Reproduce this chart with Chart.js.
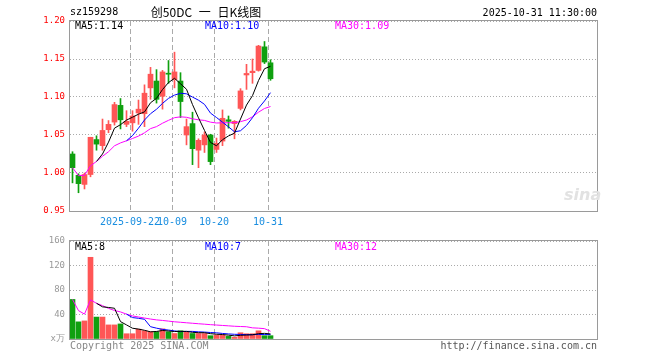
<!DOCTYPE html>
<html><head><meta charset="utf-8">
<script src="https://cdn.jsdelivr.net/npm/chart.js@4.4.1/dist/chart.umd.min.js"></script>
<style>
html,body{margin:0;padding:0;background:#fff;}
#wrap{position:relative;width:660px;height:360px;overflow:hidden;background:#fff;}
canvas{position:absolute;left:0;}
.t{position:absolute;font-family:"DejaVu Sans Mono",monospace;font-size:10px;line-height:12px;white-space:nowrap;}
</style></head><body>
<div id="wrap">
<canvas id="pc" width="660" height="230" style="top:0px"></canvas>
<canvas id="vc" width="660" height="130" style="top:230px"></canvas>
<div class="t" style="left:70px;top:6px;color:#000">sz159298</div>
<div class="t" style="left:106px;width:200px;top:5px;text-align:center;font-family:'Noto Sans CJK SC',sans-serif;font-size:12px;line-height:14px;word-spacing:4px;color:#000">创50DC 一 日K线图</div>
<div class="t" style="right:63px;top:7px;color:#000">2025-10-31 11:30:00</div>
<div class="t" style="left:75px;top:20px;color:#000">MA5:1.14</div>
<div class="t" style="left:205px;top:20px;color:#0000ff">MA10:1.10</div>
<div class="t" style="left:335px;top:20px;color:#ff00ff">MA30:1.09</div>
<div class="t" style="left:564px;top:186px;font-family:'DejaVu Sans',sans-serif;font-weight:bold;font-style:italic;font-size:16px;line-height:18px;color:#e2e2e2">sina</div>
<div class="t" style="left:75px;top:241px;color:#000">MA5:8</div>
<div class="t" style="left:205px;top:241px;color:#0000ff">MA10:7</div>
<div class="t" style="left:335px;top:241px;color:#ff00ff">MA30:12</div>
<div class="t" style="left:70px;top:340px;color:#888">Copyright 2025 SINA.COM</div>
<div class="t" style="right:63px;top:340px;color:#555">http://finance.sina.com.cn</div>
</div>
<script>
const dates = ["2025-09-08","2025-09-09","2025-09-10","2025-09-11","2025-09-12","2025-09-15","2025-09-16","2025-09-17","2025-09-18","2025-09-19","2025-09-22","2025-09-23","2025-09-24","2025-09-25","2025-09-26","2025-09-29","2025-09-30","2025-10-09","2025-10-10","2025-10-13","2025-10-14","2025-10-15","2025-10-16","2025-10-17","2025-10-20","2025-10-21","2025-10-22","2025-10-23","2025-10-24","2025-10-27","2025-10-28","2025-10-29","2025-10-30","2025-10-31"];
const tickDates = ["2025-09-22","2025-10-09","2025-10-20","2025-10-31"];
const tickLabels = ["2025-09-22","10-09","10-20","10-31"];
const priceTicks = [0.95,1.00,1.05,1.10,1.15,1.20];
const volTicks = [0,40,80,120,160];
const volTickLabels = ["x万","40","80","120","160"];

const openP  = [1.025,0.997,0.985,0.998,1.044,1.036,1.057,1.067,1.089,1.064,1.066,1.079,1.078,1.112,1.121,1.101,1.131,1.123,1.121,1.050,1.065,1.030,1.037,1.050,1.031,1.042,1.070,1.065,1.085,1.129,1.132,1.135,1.166,1.145];
const closeP = [1.007,0.986,0.998,1.047,1.038,1.056,1.064,1.090,1.070,1.068,1.075,1.084,1.105,1.130,1.097,1.133,1.130,1.133,1.094,1.061,1.032,1.043,1.050,1.015,1.039,1.072,1.068,1.068,1.108,1.131,1.134,1.167,1.146,1.124];
const highP  = [1.028,0.999,1.000,1.047,1.049,1.071,1.069,1.093,1.098,1.082,1.082,1.096,1.116,1.139,1.136,1.135,1.148,1.159,1.132,1.071,1.080,1.045,1.054,1.051,1.046,1.083,1.075,1.069,1.111,1.143,1.150,1.168,1.173,1.149];
const lowP   = [0.987,0.974,0.979,0.995,1.030,1.030,1.053,1.063,1.058,1.061,1.055,1.064,1.061,1.097,1.092,1.084,1.118,1.112,1.073,1.037,1.011,1.007,1.027,1.011,1.027,1.036,1.059,1.045,1.083,1.110,1.118,1.134,1.144,1.122];

const ma5  = [null,null,null,null,1.0152,1.025,1.0406,1.059,1.0636,1.0696,1.0734,1.0774,1.0804,1.0924,1.0982,1.1098,1.119,1.1246,1.1174,1.1102,1.09,1.0726,1.056,1.0402,1.0358,1.0438,1.0488,1.0524,1.071,1.0894,1.1018,1.1216,1.1372,1.1404];
const ma10 = [null,null,null,null,null,null,null,null,null,1.0424,1.0492,1.059,1.0697,1.078,1.0839,1.0916,1.0982,1.1025,1.1049,1.1042,1.0999,1.0958,1.0903,1.0788,1.073,1.0669,1.0607,1.0542,1.0556,1.0626,1.0728,1.0852,1.0948,1.1057];
const ma30 = [1.007,0.9965,0.997,1.0095,1.0152,1.022,1.028,1.0358,1.0396,1.0424,1.0454,1.0486,1.0529,1.0584,1.061,1.0655,1.0693,1.0728,1.0739,1.0733,1.0713,1.07,1.0692,1.0669,1.0658,1.066,1.0661,1.0662,1.0676,1.0697,1.074,1.08,1.0849,1.0875];

const volume = [64.6,28,29.5,133.4,35.8,35.8,23,23,24.6,8.6,8.6,16,13.4,11.8,11.8,16.6,11.8,9,13.4,11.3,9,9,9,5.4,6.5,6.5,4.3,2.7,10.2,8.6,8.6,13.4,5.4,5.4];
const vma5  = [null,null,null,null,58.3,52.5,51.5,50.2,28.4,23.0,17.6,16.2,14.2,11.7,12.3,13.9,13.1,12.2,12.5,12.4,10.9,10.3,10.3,8.7,7.8,7.3,6.3,5.1,6.0,6.5,6.9,8.7,9.2,8.3];
const vma10 = [null,null,null,null,null,null,null,null,null,40.6,35.0,33.8,32.2,20.1,17.7,15.7,14.6,13.2,12.1,12.4,12.4,11.7,11.3,10.6,10.1,9.1,8.3,7.7,7.4,7.1,7.1,7.5,7.2,7.2];
const vma30 = [64.6,46.3,40.7,63.9,58.3,54.5,50.0,46.6,44.2,40.6,37.7,35.9,34.2,32.6,31.2,30.3,29.2,28.1,27.3,26.5,25.7,24.9,24.2,23.4,22.8,22.1,21.5,20.8,20.4,20.0,18.2,17.7,16.9,12.6];

const RED = "#ff5656", GREEN = "#0fa00f";
const idx = dates.map((d, i) => i);
const colors = idx.map(i => closeP[i] >= openP[i] ? RED : GREEN);
const slot = 6, plotW = 527, firstOffset = 2.5;
const xMin = -firstOffset / slot, xMax = xMin + plotW / slot;
const gridShift = -firstOffset / slot;
const mono = "DejaVu Sans Mono";

const framePlugin = {
  id: 'frame',
  afterDraw(chart) {
    const a = chart.chartArea, c = chart.ctx;
    c.save();
    c.strokeStyle = '#9a9a9a';
    c.lineWidth = 1;
    c.setLineDash([]);
    c.strokeRect(a.left - 0.5, a.top - 0.5, a.right - a.left + 1, a.bottom - a.top + 1);
    c.restore();
  }
};

function xScale(showLabels, h) {
  return {
    type: 'linear', min: xMin, max: xMax, offset: false,
    afterBuildTicks: s => { s.ticks = tickDates.map(d => ({ value: dates.indexOf(d) + gridShift })); },
    afterFit: s => { s.height = h; },
    ticks: { display: showLabels, autoSkip: false, maxRotation: 0, color: '#1a8ee0', padding: 5,
      font: { family: mono, size: 10 }, callback: (v, i) => tickLabels[i] },
    grid: { color: '#aaaaaa', drawTicks: false, lineWidth: 1, offset: false },
    border: { display: false, dash: [5, 3] }
  };
}
function line(data, color) {
  return { type: 'line', data: idx.map(i => ({ x: i, y: data[i] })), borderColor: color, borderWidth: 1,
    pointRadius: 0, tension: 0, spanGaps: false, order: 0 };
}

new Chart(document.getElementById('pc'), {
  type: 'bar',
  data: { datasets: [
    { data: idx.map(i => ({ x: i, y: [lowP[i], highP[i]] })), backgroundColor: colors, barThickness: 1, grouped: false, order: 2, borderWidth: 0 },
    { data: idx.map(i => ({ x: i, y: [openP[i], closeP[i]] })), backgroundColor: colors, barThickness: 5, grouped: false, minBarLength: 1, order: 1, borderWidth: 0 },
    line(ma5, '#000000'), line(ma10, '#0000ff'), line(ma30, '#ff00ff')
  ] },
  options: {
    responsive: false, animation: false, devicePixelRatio: 1,
    layout: { padding: { left: 0, top: 21, right: 63, bottom: 0 } },
    plugins: { legend: { display: false }, tooltip: { enabled: false } },
    scales: {
      x: xScale(true, 19),
      y: {
        min: 0.95, max: 1.20,
        afterBuildTicks: s => { s.ticks = priceTicks.map(v => ({ value: v })); },
        afterFit: s => { s.width = 70; },
        ticks: { color: '#ff0000', padding: 5, font: { family: mono, size: 9 }, callback: v => v.toFixed(2) },
        grid: { color: '#aaaaaa', drawTicks: false, lineWidth: 1 },
        border: { display: false, dash: [1, 2] }
      }
    }
  },
  plugins: [framePlugin]
});

new Chart(document.getElementById('vc'), {
  type: 'bar',
  data: { datasets: [
    { data: idx.map(i => ({ x: i, y: volume[i] })), backgroundColor: colors, barThickness: 5, grouped: false, order: 1, borderWidth: 0 },
    line(vma5, '#000000'), line(vma10, '#0000ff'), line(vma30, '#ff00ff')
  ] },
  options: {
    responsive: false, animation: false, devicePixelRatio: 1,
    layout: { padding: { left: 0, top: 11, right: 63, bottom: 0 } },
    plugins: { legend: { display: false }, tooltip: { enabled: false } },
    scales: {
      x: xScale(false, 21),
      y: {
        min: 0, max: 160,
        afterBuildTicks: s => { s.ticks = volTicks.map(v => ({ value: v })); },
        afterFit: s => { s.width = 70; },
        ticks: { color: '#999999', padding: 5, font: { family: mono, size: 9 }, callback: (v, i) => volTickLabels[i] },
        grid: { color: '#aaaaaa', drawTicks: false, lineWidth: 1 },
        border: { display: false, dash: [1, 2] }
      }
    }
  },
  plugins: [framePlugin]
});
</script>
</body></html>
